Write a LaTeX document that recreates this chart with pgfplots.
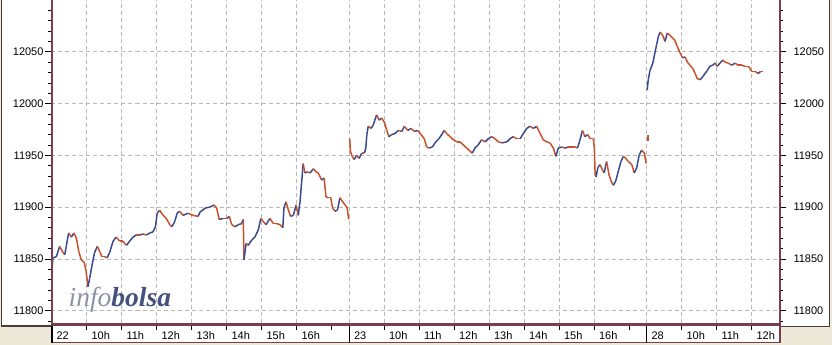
\documentclass[border=0pt]{standalone}
\usepackage{pgfplots}
\pgfplotsset{compat=1.18}
\usepackage{fontspec}
\setmainfont{Liberation Sans}
\newfontfamily\wmfont{Liberation Serif}
\definecolor{framec}{HTML}{7A3E4E}
\definecolor{beige}{HTML}{ECE9D8}
\definecolor{gridc}{HTML}{B8B8B8}
\definecolor{upc}{HTML}{3B4A8E}
\definecolor{dnc}{HTML}{C8502A}
\definecolor{wmlight}{HTML}{8C92AA}
\definecolor{wmdark}{HTML}{45507E}
\definecolor{edgec}{HTML}{4A3A3A}

\pgfplotstableread{
t v c
0.00 11832 1
0.02 11842 1
0.04 11851 1
0.14 11852 1
0.23 11862 0
0.33 11856 0
0.38 11854 1
0.42 11862 1
0.49 11875 0
0.57 11871 1
0.64 11875 0
0.71 11870 0
0.78 11857 0
0.85 11849 0
0.93 11847 0
0.99 11838 0
1.04 11823 1
1.09 11831 1
1.17 11846 1
1.23 11856 1
1.31 11862 0
1.38 11857 0
1.44 11852 0
1.52 11852 0
1.59 11851 1
1.66 11856 1
1.76 11867 1
1.85 11871 0
1.95 11867 0
2.04 11867 0
2.14 11863 1
2.23 11867 1
2.33 11871 1
2.42 11873 0
2.52 11873 1
2.61 11874 0
2.71 11873 1
2.81 11875 1
2.90 11876 1
2.97 11881 1
3.02 11894 1
3.09 11897 0
3.19 11892 0
3.28 11889 0
3.38 11883 0
3.44 11881 1
3.52 11886 1
3.59 11894 1
3.66 11896 0
3.76 11892 1
3.90 11894 0
4.04 11892 0
4.19 11891 1
4.24 11895 1
4.39 11899 1
4.53 11900 1
4.64 11902 0
4.72 11899 0
4.79 11888 1
4.91 11889 0
5.01 11889 1
5.08 11891 0
5.15 11883 0
5.24 11881 1
5.34 11883 1
5.43 11884 1
5.48 11888 0
5.50 11849 1
5.56 11865 0
5.62 11863 1
5.72 11868 1
5.81 11871 1
5.91 11878 1
5.98 11889 0
6.05 11886 0
6.13 11883 1
6.24 11889 0
6.34 11884 0
6.43 11884 0
6.53 11883 0
6.61 11880 1
6.64 11899 1
6.70 11905 0
6.77 11897 0
6.83 11891 1
6.91 11892 1
6.99 11902 0
7.05 11892 1
7.10 11905 1
7.15 11925 1
7.19 11942 0
7.24 11933 1
7.31 11934 0
7.39 11933 1
7.48 11937 0
7.56 11934 0
7.62 11933 0
7.72 11926 1
7.79 11928 0
7.84 11910 0
7.91 11909 0
7.98 11909 0
8.03 11899 0
8.10 11896 1
8.17 11897 1
8.24 11909 0
8.32 11905 0
8.39 11902 0
8.45 11899 0
8.49 11888 0
}\dayone

\pgfplotstableread{
t v c
8.52 11966 0
8.54 11954 0
8.59 11949 0
8.65 11946 1
8.72 11950 0
8.79 11947 1
8.86 11952 0
8.94 11952 1
8.98 11957 1
9.01 11970 1
9.05 11978 0
9.13 11976 1
9.19 11979 1
9.29 11989 0
9.36 11984 1
9.43 11986 0
9.51 11982 0
9.58 11974 0
9.64 11968 1
9.72 11970 1
9.81 11971 1
9.91 11974 0
10.01 11973 1
10.08 11978 0
10.18 11974 1
10.27 11976 0
10.37 11973 1
10.46 11974 0
10.56 11970 0
10.65 11966 0
10.72 11958 0
10.79 11957 1
10.88 11958 1
10.98 11963 1
11.07 11966 1
11.15 11970 1
11.22 11974 0
11.29 11971 0
11.39 11968 0
11.48 11965 0
11.58 11963 0
11.67 11963 0
11.77 11960 0
11.86 11957 0
11.96 11954 0
12.02 11952 1
12.10 11957 1
12.19 11960 1
12.29 11965 0
12.39 11963 1
12.48 11966 1
12.58 11968 0
12.67 11966 0
12.77 11963 0
12.88 11962 1
13.01 11963 1
13.10 11966 1
13.19 11968 0
13.29 11966 0
13.39 11966 1
13.48 11971 1
13.58 11976 1
13.67 11978 0
13.77 11976 1
13.86 11978 0
13.96 11971 0
14.05 11965 0
14.15 11963 0
14.24 11962 0
14.34 11957 0
14.41 11949 1
14.48 11957 1
14.58 11958 0
14.67 11957 1
14.77 11958 0
14.86 11958 0
14.96 11958 0
15.03 11957 1
15.10 11965 1
15.17 11974 0
15.24 11968 1
15.32 11970 0
15.39 11966 0
15.48 11966 0
15.51 11957 0
15.53 11934 0
15.56 11929 1
15.61 11938 1
15.67 11941 0
15.74 11936 0
15.79 11933 1
15.86 11944 0
15.93 11931 0
15.99 11925 0
16.05 11921 1
16.12 11925 1
16.19 11934 1
16.27 11944 1
16.34 11949 0
16.41 11947 0
16.48 11944 0
16.58 11941 0
16.65 11933 1
16.72 11938 1
16.79 11950 1
16.86 11955 0
16.94 11952 0
16.99 11942 0
}\daytwo

\pgfplotstableread{
t v c
17.02 12013 1
17.05 12023 1
17.10 12032 1
17.18 12039 1
17.24 12049 1
17.29 12057 1
17.34 12065 1
17.39 12069 0
17.46 12066 0
17.53 12060 1
17.59 12068 0
17.67 12066 0
17.75 12063 0
17.81 12061 0
17.88 12055 0
17.96 12049 0
18.03 12044 1
18.10 12045 0
18.17 12040 0
18.24 12037 0
18.32 12034 0
18.39 12029 0
18.45 12024 0
18.53 12023 1
18.61 12026 1
18.67 12029 1
18.74 12032 1
18.81 12036 1
18.89 12037 1
18.96 12039 0
19.02 12036 1
19.10 12039 1
19.18 12042 0
19.24 12040 0
19.34 12039 0
19.43 12037 1
19.53 12039 0
19.62 12037 0
19.72 12037 0
19.81 12036 0
19.91 12036 0
20.01 12031 0
20.10 12031 0
20.19 12029 1
20.26 12031 0
20.32 12031 0
}\daythree

\pgfplotsset{
  common/.style={
    at={(0,0)}, anchor=south west,
    scale only axis, width=728.5bp, height=323bp,
    xmin=0, xmax=20.8143, ymin=11788, ymax=12100,
    axis line style={draw=none},
    scaled y ticks=false,
    ytick={11800,11850,11900,11950,12000,12050},
    minor ytick={11790,11800,11810,11820,11830,11840,11850,11860,11870,11880,11890,11900,11910,11920,11930,11940,11950,11960,11970,11980,11990,12000,12010,12020,12030,12040,12050,12060,12070,12080,12090},
    yticklabel={\pgfmathprintnumber[fixed, precision=0, 1000 sep={}, assume math mode=true]{\tick}},
    tick align=outside,
    major tick length=6bp, minor tick length=3bp,
    tick style={black, line width=0.6bp},
    yticklabel style={font=\fontsize{11bp}{12bp}\selectfont},
  }
}

\begin{document}
\begin{tikzpicture}
\path[use as bounding box] (-51.5bp,-22bp) rectangle (780.5bp,323bp);
% backgrounds
\fill[beige] (-51.5bp,-22bp) rectangle (780.5bp,323bp);
\fill[white] (-49.5bp,-3bp) rectangle (0bp,323bp);
\fill[white] (0bp,-20bp) rectangle (728.5bp,323bp);
\fill[white] (728.5bp,-3bp) rectangle (777.5bp,323bp);

\begin{axis}[common,
  ytick pos=left,
  yticklabel style={xshift=1.5bp},
  xtick pos=bottom,
  xtick={0,1,2,3,4,5,6,7,8.5,9.5,10.5,11.5,12.5,13.5,14.5,15.5,17,18,19,20},
  xticklabels={22,10h,11h,12h,13h,14h,15h,16h,23,10h,11h,12h,13h,14h,15h,16h,28,10h,11h,12h},
  xtick style={/pgfplots/major tick length=7bp},
  extra x ticks={8,16.5},
  extra x tick labels={},
  extra x tick style={xmajorgrids=false},
  xticklabel style={font=\fontsize{11bp}{12bp}\selectfont, anchor=base west, xshift=1.5bp, yshift=-10.5bp},
  xmajorgrids, ymajorgrids,
  major grid style={gridc, dash pattern=on 4bp off 3bp, line width=0.6bp},
  colormap={updown}{color(0)=(dnc) color(1)=(upc)},
  point meta min=0, point meta max=1,
]
\addplot[mesh, shader=flat corner, point meta=explicit, line width=1.5bp] table[x=t, y=v, meta=c] {\dayone};
\addplot[mesh, shader=flat corner, point meta=explicit, line width=1.5bp] table[x=t, y=v, meta=c] {\daytwo};
\addplot[mesh, shader=flat corner, point meta=explicit, line width=1.5bp] table[x=t, y=v, meta=c] {\daythree};
\addplot[dnc, line width=1.3bp] coordinates {(17.04,11964) (17.04,11970)};
\end{axis}

\begin{axis}[common,
  axis x line=none,
  axis y line*=right,
  axis line style={draw=none},
  yticklabel pos=right,
  yticklabel style={xshift=4bp},
]
\addplot[draw=none] coordinates {(1,11900)};
\end{axis}

% frame lines
\draw[edgec, line width=1.5bp] (-50bp,323bp) -- (-50bp,-3bp) -- (0bp,-3bp);
\draw[edgec, line width=1bp] (728.5bp,-3.5bp) -- (777.5bp,-3.5bp) -- (777.5bp,323bp);
\draw[framec, line width=1.2bp] (0bp,-19.8bp) -- (728.5bp,-19.8bp) -- (728.5bp,0bp);
\draw[framec, line width=2bp] (0.5bp,323bp) -- (0.5bp,-1.5bp);
\draw[framec, line width=2bp] (728.5bp,323bp) -- (728.5bp,-1.5bp);
\draw[framec, line width=2.5bp] (0bp,-1.5bp) -- (729.5bp,-1.5bp);
% day separators in the label strip
\draw[black, line width=1.6bp] (0.8bp,-2.5bp) -- (0.8bp,-19.5bp);
\draw[black, line width=0.9bp] (297.5bp,-2.5bp) -- (297.5bp,-19.5bp);
\draw[black, line width=0.9bp] (595bp,-2.5bp) -- (595bp,-19.5bp);

% watermark
\node[anchor=base west, inner sep=0pt] at (17bp,17bp)
  {\wmfont\fontsize{27.5bp}{27.5bp}\selectfont\textcolor{wmlight}{\itshape info}\textcolor{wmdark}{\bfseries\itshape bolsa}};
\end{tikzpicture}
\end{document}
